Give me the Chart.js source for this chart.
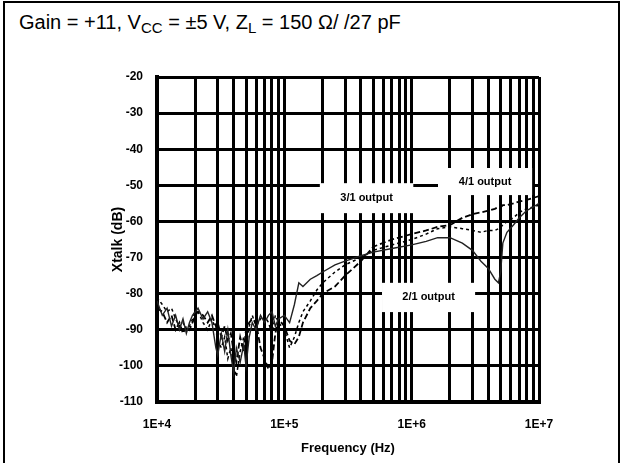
<!DOCTYPE html>
<html>
<head>
<meta charset="utf-8">
<script src="https://cdn.jsdelivr.net/npm/chart.js@4.4.1/dist/chart.umd.min.js"></script>
<style>
  body { margin: 0; background: #fff; width: 622px; height: 463px; overflow: hidden; position: relative; }
  #frame { position: absolute; left: 3px; top: 1px; width: 613px; height: 480px; border: 2px solid #000; }
  #title { position: absolute; left: 19px; top: 11px; font: 20px "Liberation Sans", Arial, sans-serif; color: #000; white-space: nowrap; }
  #title sub { font-size: 15px; vertical-align: -4px; line-height: 0; }
  #chartBox { position: absolute; left: 0; top: 0; width: 622px; height: 463px; }
</style>
</head>
<body>
<div id="frame"></div>
<div id="title">Gain = +11, V<sub>CC</sub> = ±5 V, Z<sub>L</sub> = 150 Ω/ /27 pF</div>
<div id="chartBox"><canvas id="xtalkChart" width="622" height="463"></canvas></div>
<script>
// crosstalk vs frequency
const freqs = [
  1.0e4, 1.1e4, 1.2e4, 1.3e4, 1.4e4, 1.5e4, 1.6e4, 1.7e4, 1.8e4, 1.9e4,
  2.0e4, 2.1e4, 2.3e4, 2.5e4, 2.7e4, 2.9e4, 3.0e4, 3.2e4, 3.4e4, 3.6e4,
  3.8e4, 4.0e4, 4.2e4, 4.5e4, 4.8e4, 5.0e4, 5.3e4, 5.6e4, 6.0e4, 6.5e4,
  7.0e4, 7.5e4, 8.0e4, 8.5e4, 9.0e4, 1.0e5, 1.1e5, 1.2e5, 1.3e5, 1.4e5,
  1.6e5, 1.8e5, 2.0e5, 2.5e5, 3.0e5, 4.0e5, 5.0e5, 7.0e5, 1.0e6, 1.3e6,
  1.6e6, 2.0e6, 2.5e6, 3.0e6, 3.5e6, 4.0e6, 4.5e6, 4.8e6, 5.0e6, 5.2e6,
  5.6e6, 6.3e6, 7.0e6, 8.0e6, 9.0e6, 1.0e7
];
const out21 = [
  -82, -86, -84, -89, -86, -90, -87, -91, -88, -86,
  -85, -84, -87, -85, -88, -95, -97, -91, -96, -90,
  -97, -102, -95, -99, -94, -100, -92, -88, -90, -86,
  -88, -86, -85, -89, -87, -86, -88, -83, -77, -78,
  -76, -75, -74, -72, -71, -69.5, -68.5, -67.5, -66.5, -65.5,
  -64.5, -64.5, -66, -68, -71, -73, -76, -77, -74, -66,
  -63, -61, -59, -57, -56, -55
];
const out31 = [
  -84, -85, -88, -86, -90, -88, -91, -89, -90, -88,
  -86, -85, -86, -88, -86, -89, -88, -92, -89, -93,
  -91, -96, -99, -92, -96, -90, -88, -87, -88, -95,
  -98, -101, -99, -91, -87, -89, -93, -94, -92, -88,
  -84, -82, -80, -78, -75, -71, -67, -65, -63.5, -62.5,
  -61.5, -61, -59, -58, -57.5, -57, -56.5, -56, -56, -55.5,
  -55.5, -55, -54.5, -54, -53.5, -53
];
const out41 = [
  -81, -83, -85, -84, -87, -89, -88, -90, -89, -87,
  -84, -85, -88, -90, -87, -90, -93, -95, -92, -98,
  -95, -100, -103, -96, -92, -95, -89, -86, -89, -87,
  -86, -88, -91, -86, -88, -90, -95, -92, -88, -85,
  -82, -79, -77, -74, -72, -70, -68, -66.5, -65, -63.5,
  -62, -61.5, -62, -62.5, -63, -62.5, -62.5, -62, -61.5, -61,
  -60, -59, -57.5, -56.5, -56, -55.5
];
const yTicks = [-110, -100, -90, -80, -70, -60, -50, -40, -30, -20];

// in-plot series labels: [text, f from, f to, dB top, dB bottom]
const seriesLabels = [
  ['3/1 output', 1.9e5, 1.03e6, -49.4, -57.7],
  ['4/1 output', 1.61e6, 8.83e6, -45.2, -52.7],
  ['2/1 output', 5.85e5, 3.15e6, -77, -85.1]
];

function toPoints(vals) {
  return freqs.map((f, i) => ({ x: f, y: vals[i] }));
}

const labelBoxes = {
  id: 'labelBoxes',
  afterDatasetsDraw(chart) {
    const ctx = chart.ctx;
    const xs = chart.scales.x, ys = chart.scales.y;
    ctx.save();
    seriesLabels.forEach(([txt, f0, f1, d0, d1]) => {
      const x0 = xs.getPixelForValue(f0), x1 = xs.getPixelForValue(f1);
      const y0 = ys.getPixelForValue(d0), y1 = ys.getPixelForValue(d1);
      ctx.fillStyle = '#fff';
      ctx.fillRect(x0, y0, x1 - x0, y1 - y0);
      ctx.fillStyle = '#000';
      ctx.font = 'bold 11px "Liberation Sans", Arial, sans-serif';
      ctx.textAlign = 'center';
      ctx.textBaseline = 'middle';
      ctx.fillText(txt, (x0 + x1) / 2, (y0 + y1) / 2);
    });
    ctx.restore();
  }
};

function drawChart() {
  const ctx = document.getElementById('xtalkChart').getContext('2d');
  const tickFont = { family: '"Liberation Sans", Arial, sans-serif', size: 12, weight: 'bold' };

  new Chart(ctx, {
    type: 'line',
    data: {
      datasets: [
        { label: '2/1 output', data: toPoints(out21), borderColor: '#222', borderWidth: 1.4, pointRadius: 0 },
        { label: '3/1 output', data: toPoints(out31), borderColor: '#000', borderWidth: 1.8, borderDash: [6, 3], pointRadius: 0 },
        { label: '4/1 output', data: toPoints(out41), borderColor: '#000', borderWidth: 1.5, borderDash: [3, 3], pointRadius: 0 }
      ]
    },
    options: {
      responsive: false,
      animation: false,
      layout: { padding: { left: 0, right: 83, top: 77, bottom: 0 } },
      plugins: { legend: { display: false }, tooltip: { enabled: false } },
      scales: {
        x: {
          type: 'logarithmic',
          min: 1e4,
          max: 1e7,
          afterBuildTicks: (scale) => {
            const t = [];
            for (let e = 4; e < 7; e++) {
              for (let m = 1; m < 10; m++) t.push({ value: m * Math.pow(10, e) });
            }
            t.push({ value: 1e7 });
            scale.ticks = t;
          },
          afterFit: (scale) => { scale.height = 61; },
          grid: { color: '#000', lineWidth: 3, drawTicks: false },
          border: { color: '#000', width: 4 },
          ticks: {
            color: '#000',
            font: tickFont,
            padding: 15,
            maxRotation: 0,
            autoSkip: false,
            callback: (v) => {
              const e = Math.round(Math.log10(v));
              return Math.abs(v - Math.pow(10, e)) < 1 ? '1E+' + e : '';
            }
          },
          title: {
            display: true,
            text: 'Frequency (Hz)',
            color: '#000',
            font: { family: '"Liberation Sans", Arial, sans-serif', size: 13, weight: 'bold' },
            padding: { top: 0, bottom: 7 }
          }
        },
        y: {
          min: -110,
          max: -20,
          afterBuildTicks: (scale) => { scale.ticks = yTicks.map(v => ({ value: v })); },
          afterFit: (scale) => { scale.width = 157; },
          grid: { color: '#000', lineWidth: 3, drawTicks: false },
          border: { color: '#000', width: 4 },
          ticks: { color: '#000', font: tickFont, padding: 14 },
          title: {
            display: true,
            text: 'Xtalk (dB)',
            color: '#000',
            font: { family: '"Liberation Sans", Arial, sans-serif', size: 14, weight: 'bold' },
            padding: { top: 110, bottom: 0 }
          }
        }
      }
    },
    plugins: [labelBoxes]
  });
}

drawChart();
</script>
</body>
</html>
